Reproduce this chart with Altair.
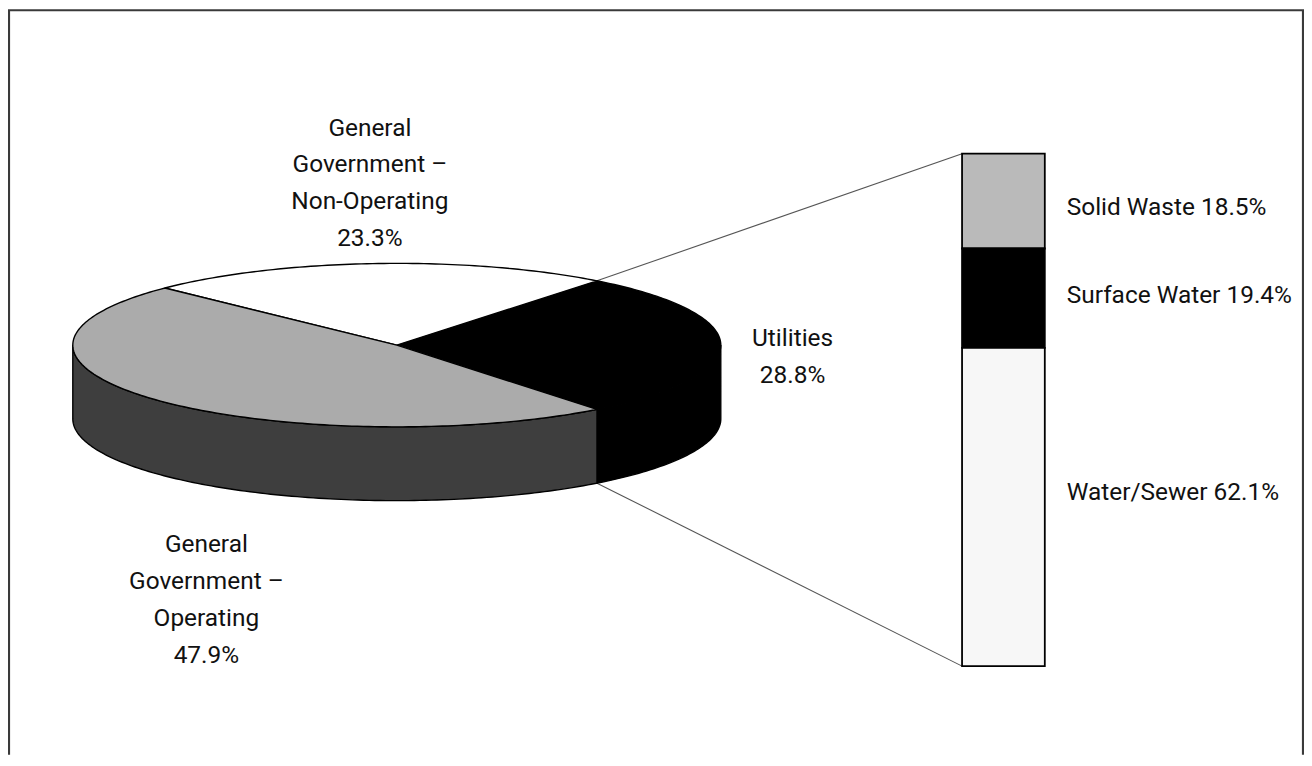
import altair as alt
import numpy as np
import pandas as pd

# ---------------- data ----------------
main_categories = ["Utilities", "General\nGovernment –\nNon-Operating", "General\nGovernment –\nOperating"]
main_shares = [28.8, 23.3, 47.9]
main_top_fills = ["#000000", "#ffffff", "#ababab"]
main_side_fills = ["#000000", "#ffffff", "#3e3e3e"]

sub_categories = ["Solid Waste", "Surface Water", "Water/Sewer"]
sub_shares = [18.5, 19.4, 62.1]
sub_fills = ["#bababa", "#000000", "#f7f7f7"]

# ---------------- layout (page pixels) ----------------
CX, CY, RX, RY, DEPTH = 398, 345, 325, 82, 74
BAR_X0, BAR_X1, BAR_Y0, BAR_Y1 = 965, 1048, 153, 667
FONT = "Roboto"
FS = 24.5
LH = 36.8
main_label_pos = [(795, 346), (371, 135), (207, 553)]
sub_label_pos = [(1070, 214), (1070, 303), (1070, 500)]
FRAME = [[9, 770], [9, 9], [1307, 9], [1307, 770]]
PROJ = dict(type="identity", scale=1, translate=[-8, -8])


def ell(t_deg, dy=0.0):
    t = np.radians(t_deg)
    return [float(CX + RX * np.cos(t)), float(CY - RY * np.sin(t) + dy)]


def arc(t0, t1, dy=0.0, step=1.0):
    n = max(2, int(abs(t1 - t0) / step) + 1)
    return [ell(t, dy) for t in np.linspace(t0, t1, n)]


total = float(sum(main_shares))
bounds = []
acc = -main_shares[0] / total * 180.0  # first slice centred on the right
for s in main_shares:
    span = s / total * 360.0
    bounds.append((acc, acc + span))
    acc += span

side_feats, top_feats = [], []
for (t0, t1), cat, tf, sf in zip(bounds, main_categories, main_top_fills, main_side_fills):
    ring = [[CX, CY]] + arc(t0, t1) + [[CX, CY]]
    top_feats.append({"type": "Feature", "properties": {"fill": tf, "name": cat},
                      "geometry": {"type": "Polygon", "coordinates": [ring]}})
    for k in (-360.0, 0.0, 360.0):
        a, b = max(t0 + k, 180.0), min(t1 + k, 360.0)
        if b > a:
            ring = arc(a, b) + arc(b, a, DEPTH)
            ring.append(ring[0])
            side_feats.append({"type": "Feature", "properties": {"fill": sf, "name": cat},
                               "geometry": {"type": "Polygon", "coordinates": [ring]}})

bar_feats = []
sub_total = float(sum(sub_shares))
y = BAR_Y0
for cat, s, f in zip(sub_categories, sub_shares, sub_fills):
    y1 = y + s / sub_total * (BAR_Y1 - BAR_Y0)
    ring = [[BAR_X0, y], [BAR_X1, y], [BAR_X1, y1], [BAR_X0, y1], [BAR_X0, y]]
    bar_feats.append({"type": "Feature", "properties": {"fill": f, "name": cat},
                      "geometry": {"type": "Polygon", "coordinates": [ring]}})
    y = y1

u0, u1 = bounds[0]
line_feats = [
    {"type": "Feature", "properties": {},
     "geometry": {"type": "LineString", "coordinates": [ell(u1), [BAR_X0, BAR_Y0]]}},
    {"type": "Feature", "properties": {},
     "geometry": {"type": "LineString", "coordinates": [ell(u0, DEPTH), [BAR_X0, BAR_Y1]]}},
]
frame_feats = [{"type": "Feature", "properties": {},
                "geometry": {"type": "LineString", "coordinates": FRAME}}]

frame = alt.Chart(alt.Data(values=frame_feats)).mark_geoshape(
    filled=False, stroke="#3a3a3a", strokeWidth=2.2
).project(**PROJ)

lines = alt.Chart(alt.Data(values=line_feats)).mark_geoshape(
    filled=False, stroke="#555555", strokeWidth=1.1
).project(**PROJ)

pie = alt.Chart(alt.Data(values=side_feats + top_feats)).mark_geoshape(
    stroke="black", strokeWidth=1.4
).encode(fill=alt.Fill("properties.fill:N", scale=None)).project(**PROJ)

bar = alt.Chart(alt.Data(values=bar_feats)).mark_geoshape(
    stroke="black", strokeWidth=1.8
).encode(fill=alt.Fill("properties.fill:N", scale=None)).project(**PROJ)

main_lab = pd.DataFrame({
    "label": [f"{c}\n{s:.1f}%" for c, s in zip(main_categories, main_shares)],
    "lon": [p[0] for p in main_label_pos],
    "lat": [p[1] for p in main_label_pos],
})
sub_lab = pd.DataFrame({
    "label": [f"{c} {s:.1f}%" for c, s in zip(sub_categories, sub_shares)],
    "lon": [p[0] for p in sub_label_pos],
    "lat": [p[1] for p in sub_label_pos],
})

main_text = alt.Chart(main_lab).mark_text(
    align="center", baseline="alphabetic", lineBreak="\n", lineHeight=LH,
    font=FONT, fontSize=FS, color="#111111"
).encode(longitude="lon:Q", latitude="lat:Q", text="label:N").project(**PROJ)

sub_text = alt.Chart(sub_lab).mark_text(
    align="left", baseline="alphabetic",
    font=FONT, fontSize=FS, color="#111111"
).encode(longitude="lon:Q", latitude="lat:Q", text="label:N").project(**PROJ)

chart = alt.layer(frame, lines, pie, bar, main_text, sub_text).properties(
    width=1300, height=748, padding=0, autosize="none"
).configure_view(strokeWidth=0)

chart.save("out.html", embed_options={"renderer": "svg", "actions": False})
